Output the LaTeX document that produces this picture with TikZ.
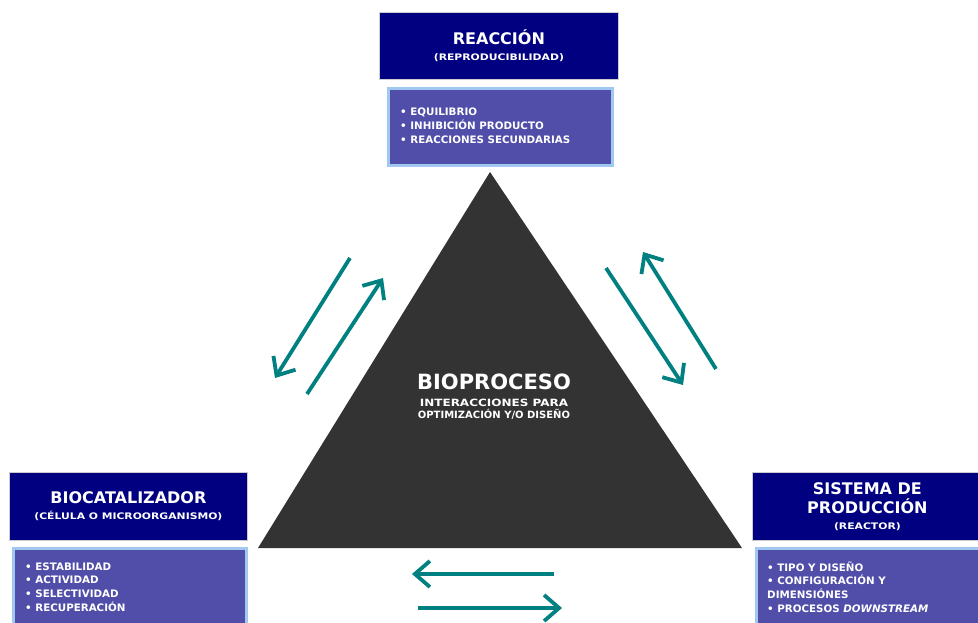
\documentclass[tikz,border=0pt]{standalone}
\usepackage{fontspec}
\setmainfont{DejaVu Sans}
\newfontfamily\widesans[FakeStretch=1.2]{DejaVu Sans}
\usetikzlibrary{arrows.meta}
\definecolor{navy}{RGB}{0,0,128}
\definecolor{listfill}{RGB}{80,78,168}
\definecolor{listedge}{RGB}{160,200,240}
\definecolor{trifill}{RGB}{51,51,51}
\definecolor{flowteal}{RGB}{0,128,128}
\newcommand{\ttlsub}{\widesans\bfseries\fontsize{9}{16}\selectfont}
\begin{document}
\begin{tikzpicture}[x=1pt,y=-1pt,
  titlebox/.style={fill=navy, draw=gray!40, line width=0.8pt, inner sep=0pt,
    anchor=north west, text=white, align=center,
    font=\bfseries\fontsize{16}{19}\selectfont},
  listbox/.style={fill=listfill, draw=listedge, line width=2.5pt, inner sep=0pt,
    anchor=north west},
  listtext/.style={text=white, font=\bfseries\fontsize{10.3}{13.8}\selectfont,
    align=left, anchor=west, inner sep=0pt},
  flow/.style={draw=flowteal, line width=3.8pt,
    -{Straight Barb[length=15pt,width=26pt,line width=3.8pt]}}
]
\useasboundingbox (0,0) rectangle (978,622);
\fill[white] (0,0) rectangle (978,622);

% central triangle
\fill[trifill] (490,172) -- (258,548) -- (742,548) -- cycle;
\node[text=white, align=center, inner sep=0pt, font=\bfseries] (core) at (494,397)
  {\fontsize{21}{24}\selectfont BIOPROCESO\\[5pt]
   \widesans\bfseries\fontsize{10}{14.5}\selectfont INTERACCIONES PARA\\OPTIMIZACIÓN Y/O DISEÑO};

% reaction (top)
\node[titlebox, minimum width=239pt, minimum height=67pt] (rtitle) at (379,12)
  {REACCIÓN\\[-3pt]\ttlsub (REPRODUCIBILIDAD)};
\node[listbox, minimum width=224pt, minimum height=77pt] (rlist) at (387,87) {};
\node[listtext] (rtext) at (400,126)
  {• EQUILIBRIO\\• INHIBICIÓN PRODUCTO\\• REACCIONES SECUNDARIAS};

% biocatalyst (bottom left)
\node[titlebox, minimum width=238pt, minimum height=68pt] (btitle) at (9,472)
  {BIOCATALIZADOR\\[-3pt]\ttlsub (CÉLULA O MICROORGANISMO)};
\node[listbox, minimum width=233pt, minimum height=80pt] (blist) at (12,547) {};
\node[listtext] (btext) at (25,587)
  {• ESTABILIDAD\\• ACTIVIDAD\\• SELECTIVIDAD\\• RECUPERACIÓN};

% production system (bottom right)
\node[titlebox, minimum width=230pt, minimum height=68pt] (ptitle) at (752,472)
  {SISTEMA DE\\PRODUCCIÓN\\[-3pt]\ttlsub (REACTOR)};
\node[listbox, minimum width=230pt, minimum height=80pt] (plist) at (755,547) {};
\node[listtext] (ptext) at (767,587)
  {• TIPO Y DISEÑO\\• CONFIGURACIÓN Y\\DIMENSIÓNES\\• PROCESOS \textit{DOWNSTREAM}};

% interaction arrows
\coordinate (l1s) at (350,258); \coordinate (l1e) at (275,378);
\coordinate (l2s) at (307,394); \coordinate (l2e) at (383,278);
\coordinate (r1s) at (606,268); \coordinate (r1e) at (683,385);
\coordinate (r2s) at (716,369); \coordinate (r2e) at (643,252);
\coordinate (b1s) at (554,574); \coordinate (b1e) at (412,574);
\coordinate (b2s) at (418,608); \coordinate (b2e) at (562,608);
\draw[flow] (l1s) -- (l1e);
\draw[flow] (l2s) -- (l2e);
\draw[flow] (r1s) -- (r1e);
\draw[flow] (r2s) -- (r2e);
\draw[flow] (b1s) -- (b1e);
\draw[flow] (b2s) -- (b2e);
\end{tikzpicture}
\end{document}
